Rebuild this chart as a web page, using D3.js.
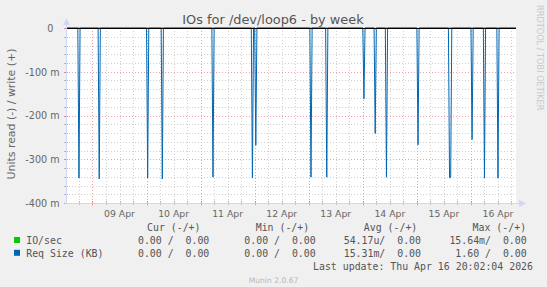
<!DOCTYPE html>
<html lang="en">
<head>
  <meta charset="utf-8">
  <script src="https://d3js.org/d3.v7.min.js"></script>
  <style>
    body { margin: 0; background: #f0f0f0; }
    text { font-family: "DejaVu Sans", sans-serif; fill: #666; }
    .mono { font-family: "DejaVu Sans Mono", monospace; font-size: 9.9px; fill: #555; }
  </style>
</head>
<body>
  <div id="chart"></div>
  <script>
    // samples are 30 min apart (rrd week resolution)
    const stepMinutes = 30;

    // read side of "Req Size (KB)", values in units (m = 1/1000)
    const reqTimes = [
      "2026-04-08 18:00", "2026-04-09 03:00", "2026-04-10 00:30", "2026-04-10 07:00",
      "2026-04-11 05:30", "2026-04-11 23:00", "2026-04-12 00:30", "2026-04-13 01:00",
      "2026-04-13 08:00", "2026-04-14 00:30", "2026-04-14 05:30", "2026-04-14 10:30",
      "2026-04-15 00:30", "2026-04-15 14:30", "2026-04-15 15:00", "2026-04-16 00:30",
      "2026-04-16 06:00", "2026-04-16 12:00"
    ];
    const reqValues = [
      -0.343, -0.345, -0.343, -0.345,
      -0.341, -0.343, -0.268, -0.341,
      -0.341, -0.162, -0.241, -0.341,
      -0.267, -0.342, -0.342, -0.255,
      -0.343, -0.343
    ];

    // read side of "IO/sec"
    const ioTimes = ["2026-04-12 00:30", "2026-04-14 00:30", "2026-04-14 05:30", "2026-04-15 00:30"];
    const ioValues = [-0.002, -0.002, -0.002, -0.002];

    const yTicks = [0, -0.1, -0.2, -0.3, -0.4];
    const dayLabels = ["2026-04-09", "2026-04-10", "2026-04-11", "2026-04-12",
                       "2026-04-13", "2026-04-14", "2026-04-15", "2026-04-16"];

    const legendHeaders = ["Cur (-/+)", "Min (-/+)", "Avg (-/+)", "Max (-/+)"];
    const legendNames = ["IO/sec", "Req Size (KB)"];
    const legendColors = ["#00cc00", "#0066b3"];
    const legendRows = [
      ["0.00 /  0.00", "0.00 /  0.00", "54.17u/  0.00", "15.64m/  0.00"],
      ["0.00 /  0.00", "0.00 /  0.00", "15.31m/  0.00", "1.60 /  0.00"]
    ];

    const W = 547, H = 287;
    const pLeft = 66, pRight = 516, pTop = 28, pBottom = 203;

    const parse = d3.timeParse("%Y-%m-%d %H:%M");
    const parseDay = d3.timeParse("%Y-%m-%d");

    const svg = d3.select("#chart")
      .append("svg")
        .attr("width", W)
        .attr("height", H);

    svg.append("rect").attr("width", W).attr("height", H).attr("fill", "#f0f0f0");

    const x = d3.scaleTime()
      .domain([parse("2026-04-08 12:15"), parse("2026-04-16 20:00")])
      .range([pLeft, pRight]);
    const y = d3.scaleLinear()
      .domain([-0.4, 0])
      .range([pBottom, pTop]);

    // canvas
    svg.append("rect")
      .attr("x", pLeft).attr("y", pTop)
      .attr("width", pRight - pLeft).attr("height", pBottom - pTop)
      .attr("fill", "#fff");

    // grid
    const minorY = d3.range(0, 21).map(i => -i * 0.02);
    const minorX = d3.timeHour.every(6).range(x.domain()[0], x.domain()[1]);
    const majorX = d3.timeDay.range(x.domain()[0], x.domain()[1]);
    const px = v => Math.round(v) + 0.5;

    const grid = svg.append("g").attr("shape-rendering", "crispEdges");
    grid.selectAll(".vmin").data(minorX).join("line")
      .attr("x1", d => px(x(d))).attr("x2", d => px(x(d)))
      .attr("y1", pTop).attr("y2", pBottom)
      .attr("stroke", "#cfcfcf").attr("stroke-dasharray", "1,2");
    grid.selectAll(".hmin").data(minorY).join("line")
      .attr("x1", pLeft).attr("x2", pRight)
      .attr("y1", d => px(y(d))).attr("y2", d => px(y(d)))
      .attr("stroke", "#cfcfcf").attr("stroke-dasharray", "1,2");
    grid.selectAll(".vmaj").data(majorX).join("line")
      .attr("x1", d => px(x(d))).attr("x2", d => px(x(d)))
      .attr("y1", pTop).attr("y2", pBottom)
      .attr("stroke", "#f0a0a0").attr("stroke-dasharray", "1,2");
    grid.selectAll(".hmaj").data(yTicks).join("line")
      .attr("x1", pLeft).attr("x2", pRight)
      .attr("y1", d => px(y(d))).attr("y2", d => px(y(d)))
      .attr("stroke", "#f0a0a0").attr("stroke-dasharray", "1,2");

    // small ticks on axes
    grid.selectAll(".ytick").data(minorY).join("line")
      .attr("x1", pLeft - 2).attr("x2", pLeft + 2)
      .attr("y1", d => px(y(d))).attr("y2", d => px(y(d)))
      .attr("stroke", "#bbb");
    grid.selectAll(".ytickmaj").data(yTicks).join("line")
      .attr("x1", pLeft - 2).attr("x2", pLeft + 2)
      .attr("y1", d => px(y(d))).attr("y2", d => px(y(d)))
      .attr("stroke", "#f08080");
    grid.selectAll(".xtick").data(minorX).join("line")
      .attr("x1", d => px(x(d))).attr("x2", d => px(x(d)))
      .attr("y1", pBottom - 2).attr("y2", pBottom + 2)
      .attr("stroke", "#bbb");
    grid.selectAll(".xtickmaj").data(majorX).join("line")
      .attr("x1", d => px(x(d))).attr("x2", d => px(x(d)))
      .attr("y1", pBottom - 2).attr("y2", pBottom + 2)
      .attr("stroke", "#f08080");

    // build spike series with zero baseline around each sample
    function spikeSeries(times, values) {
      const pts = times.map((t, i) => ({t: parse(t), v: values[i]}));
      const step = stepMinutes * 60000;
      const out = [{t: x.domain()[0], v: 0}];
      pts.forEach((p, i) => {
        const prev = pts[i - 1], next = pts[i + 1];
        if (!prev || p.t - prev.t > step) out.push({t: new Date(+p.t - step), v: 0});
        out.push(p);
        if (!next || next.t - p.t > step) out.push({t: new Date(+p.t + step), v: 0});
      });
      out.push({t: x.domain()[1], v: 0});
      return out;
    }

    const line = d3.line().x(d => x(d.t)).y(d => y(d.v));

    svg.append("path")
      .datum(spikeSeries(ioTimes, ioValues))
      .attr("d", line)
      .attr("fill", "none")
      .attr("stroke", legendColors[0])
      .attr("stroke-width", 1);

    svg.append("path")
      .datum(spikeSeries(reqTimes, reqValues))
      .attr("d", line)
      .attr("fill", "none")
      .attr("stroke", legendColors[1])
      .attr("stroke-width", 1);

    // zero line
    svg.append("line")
      .attr("x1", pLeft).attr("x2", pRight)
      .attr("y1", px(y(0))).attr("y2", px(y(0)))
      .attr("stroke", "#000").attr("shape-rendering", "crispEdges");

    // axes with arrows
    const axisColor = "#cfd6f8";
    svg.append("line")
      .attr("x1", pLeft + 0.5).attr("x2", pLeft + 0.5)
      .attr("y1", pBottom + 1).attr("y2", pTop - 4)
      .attr("stroke", axisColor).attr("shape-rendering", "crispEdges");
    svg.append("line")
      .attr("x1", pLeft - 1).attr("x2", pRight + 3)
      .attr("y1", pBottom + 0.5).attr("y2", pBottom + 0.5)
      .attr("stroke", axisColor).attr("shape-rendering", "crispEdges");
    svg.append("path")
      .attr("d", `M${pLeft - 3},${pTop - 3}L${pLeft + 4},${pTop - 3}L${pLeft + 0.5},${pTop - 10}Z`)
      .attr("fill", axisColor);
    svg.append("path")
      .attr("d", `M${pRight + 3},${pBottom - 3}L${pRight + 3},${pBottom + 4}L${pRight + 10},${pBottom + 0.5}Z`)
      .attr("fill", axisColor);

    // y labels
    svg.append("g").selectAll("text").data(yTicks).join("text")
      .attr("x", 59.5)
      .attr("y", d => y(d) + 0.5)
      .attr("dy", "0.36em")
      .attr("text-anchor", "end")
      .style("font-size", "9.6px")
      .text(d => d === 0 ? "0\u00a0\u00a0" : "-" + Math.round(-d * 1000) + " m");

    // x labels at noon of each day
    svg.append("g").selectAll("text").data(dayLabels).join("text")
      .attr("x", d => x(d3.timeHour.offset(parseDay(d), 12)))
      .attr("y", 217)
      .attr("text-anchor", "middle")
      .style("font-size", "9.3px")
      .text(d => d3.timeFormat("%d %b")(parseDay(d)));

    // title
    svg.append("text")
      .attr("x", 273)
      .attr("y", 24)
      .attr("text-anchor", "middle")
      .style("font-size", "12.9px")
      .style("fill", "#555")
      .text("IOs for /dev/loop6 - by week");

    // y axis title
    svg.append("text")
      .attr("transform", "rotate(-90)")
      .attr("x", -114)
      .attr("y", 15)
      .attr("text-anchor", "middle")
      .style("font-size", "10.9px")
      .text("Units read (-) / write (+)");

    // rrdtool watermark
    svg.append("text")
      .attr("transform", "translate(537,5) rotate(90)")
      .style("font-size", "8.2px")
      .style("fill", "#c8c8c8")
      .text("RRDTOOL / TOBI OETIKER");

    // legend
    const headerX = [147, 255.7, 363.8, 472.6];
    const valueEnd = [209.3, 315.7, 421, 526.7];
    svg.append("g").selectAll("text").data(legendHeaders).join("text")
      .attr("class", "mono")
      .attr("x", (d, i) => headerX[i])
      .attr("y", 231)
      .text(d => d);

    legendNames.forEach((name, r) => {
      const yy = 244 + r * 12.8;
      svg.append("rect")
        .attr("x", 14).attr("y", yy - 7)
        .attr("width", 6).attr("height", 6)
        .attr("fill", legendColors[r]);
      svg.append("text")
        .attr("class", "mono")
        .attr("x", 26.2).attr("y", yy)
        .text(name);
      svg.append("g").selectAll("text").data(legendRows[r]).join("text")
        .attr("class", "mono")
        .attr("x", (d, i) => valueEnd[i])
        .attr("y", yy)
        .attr("text-anchor", "end")
        .style("white-space", "pre")
        .text(d => d);
    });

    svg.append("text")
      .attr("class", "mono")
      .attr("x", 533)
      .attr("y", 269.5)
      .attr("text-anchor", "end")
      .text("Last update: Thu Apr 16 20:02:04 2026");

    svg.append("text")
      .attr("x", 273.5)
      .attr("y", 282.5)
      .attr("text-anchor", "middle")
      .style("font-size", "7.6px")
      .style("fill", "#b8b8b8")
      .text("Munin 2.0.67");
  </script>
</body>
</html>
